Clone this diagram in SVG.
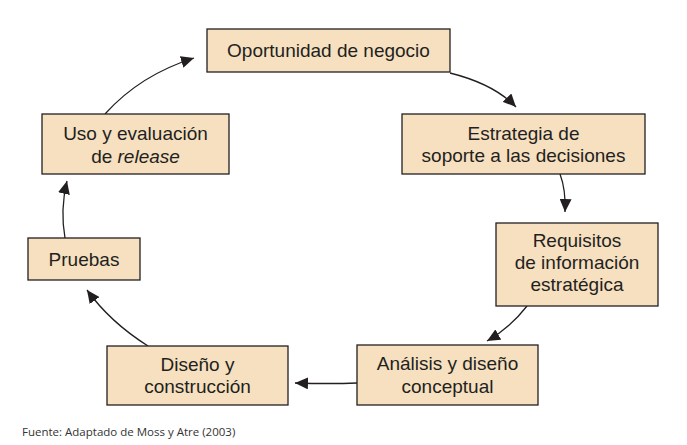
<svg xmlns="http://www.w3.org/2000/svg" width="687" height="445" viewBox="0 0 687 445">
<style>
.box{fill:#f6e0c0;stroke:#231f20;stroke-width:1.3}
.t{font-family:"Liberation Sans",Arial,sans-serif;font-size:19px;fill:#231f20;text-anchor:middle}
.c{fill:none;stroke:#231f20;stroke-width:1.3}
.src{font-family:"Open Sans","DejaVu Sans",sans-serif;font-size:11.5px;fill:#333}
</style>
<defs>
<marker id="ah" markerUnits="userSpaceOnUse" markerWidth="14" markerHeight="12" refX="13" refY="6" orient="auto">
<path d="M0,0 L13,6 L0,12 z" fill="#231f20"/>
</marker>
</defs>
<rect width="687" height="445" fill="#fff"/>
<g id="connectors">
<path class="c" d="M450,73 Q494,84 516,107" marker-end="url(#ah)"/>
<path class="c" d="M560,174 Q566,190 565,212" marker-end="url(#ah)"/>
<path class="c" d="M527,306 Q510,328 487,341" marker-end="url(#ah)"/>
<path class="c" d="M357,383 Q330,384 295,383" marker-end="url(#ah)"/>
<path class="c" d="M148,346 Q110,322 87,290" marker-end="url(#ah)"/>
<path class="c" d="M65,238 Q60,210 67,181" marker-end="url(#ah)"/>
<path class="c" d="M105,114 Q140,75 194,58" marker-end="url(#ah)"/>
</g>
<g id="oportunidad">
<rect class="box" x="207" y="29" width="243" height="43"/>
<text class="t" x="328.5" y="57">Oportunidad de negocio</text>
</g>
<g id="estrategia">
<rect class="box" x="402" y="114" width="243" height="60"/>
<text class="t" x="523.5" y="140">Estrategia de</text>
<text class="t" x="523.5" y="162">soporte a las decisiones</text>
</g>
<g id="requisitos">
<rect class="box" x="496" y="223" width="162" height="83"/>
<text class="t" x="577" y="247">Requisitos</text>
<text class="t" x="577" y="269">de información</text>
<text class="t" x="577" y="291">estratégica</text>
</g>
<g id="analisis">
<rect class="box" x="357" y="345" width="181" height="60"/>
<text class="t" x="447.5" y="370">Análisis y diseño</text>
<text class="t" x="447.5" y="393">conceptual</text>
</g>
<g id="diseno">
<rect class="box" x="107" y="346" width="181" height="59"/>
<text class="t" x="197.5" y="371">Diseño y</text>
<text class="t" x="197.5" y="393">construcción</text>
</g>
<g id="pruebas">
<rect class="box" x="28" y="238" width="112" height="42"/>
<text class="t" x="84" y="266">Pruebas</text>
</g>
<g id="uso">
<rect class="box" x="42" y="114" width="187" height="60"/>
<text class="t" x="135.5" y="140">Uso y evaluación</text>
<text class="t" x="135.5" y="163">de <tspan font-style="italic">release</tspan></text>
</g>
<text class="src" x="22" y="436">Fuente: Adaptado de Moss y Atre (2003)</text>
</svg>
